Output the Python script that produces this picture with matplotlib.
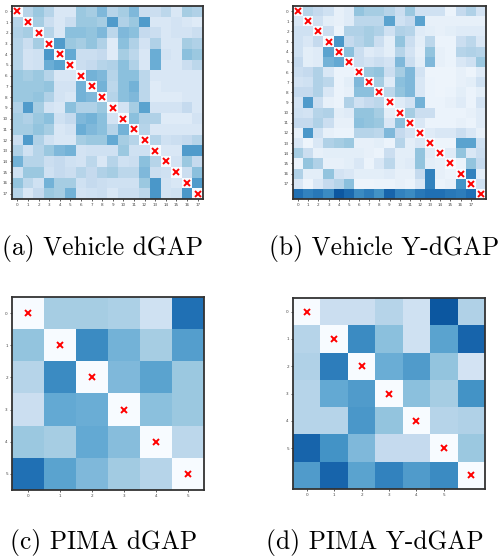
import numpy as np
import matplotlib
matplotlib.use("Agg")
import matplotlib.pyplot as plt

# Pairwise attribution matrices (diagonal entries are zero)
vehicle_dgap = [
    [0.00, 0.30, 0.38, 0.30, 0.15, 0.15, 0.38, 0.35, 0.45, 0.30, 0.35, 0.45, 0.22, 0.22, 0.28, 0.15, 0.35, 0.32],
    [0.30, 0.00, 0.35, 0.22, 0.15, 0.22, 0.38, 0.38, 0.35, 0.58, 0.32, 0.38, 0.58, 0.15, 0.15, 0.18, 0.15, 0.12],
    [0.32, 0.35, 0.00, 0.30, 0.15, 0.42, 0.42, 0.40, 0.45, 0.28, 0.45, 0.42, 0.25, 0.22, 0.15, 0.18, 0.18, 0.22],
    [0.30, 0.22, 0.35, 0.00, 0.58, 0.38, 0.35, 0.40, 0.32, 0.12, 0.42, 0.32, 0.18, 0.32, 0.15, 0.15, 0.35, 0.32],
    [0.30, 0.18, 0.20, 0.60, 0.00, 0.52, 0.22, 0.22, 0.25, 0.12, 0.35, 0.28, 0.15, 0.50, 0.18, 0.15, 0.42, 0.38],
    [0.30, 0.18, 0.20, 0.50, 0.55, 0.00, 0.22, 0.25, 0.30, 0.32, 0.42, 0.32, 0.15, 0.50, 0.15, 0.15, 0.22, 0.28],
    [0.38, 0.35, 0.38, 0.30, 0.15, 0.15, 0.00, 0.48, 0.45, 0.30, 0.42, 0.42, 0.28, 0.15, 0.15, 0.15, 0.15, 0.15],
    [0.38, 0.38, 0.38, 0.40, 0.18, 0.18, 0.48, 0.00, 0.48, 0.28, 0.42, 0.48, 0.28, 0.12, 0.15, 0.15, 0.15, 0.15],
    [0.38, 0.38, 0.40, 0.32, 0.18, 0.15, 0.48, 0.45, 0.00, 0.30, 0.42, 0.45, 0.28, 0.12, 0.12, 0.12, 0.15, 0.15],
    [0.32, 0.58, 0.35, 0.18, 0.15, 0.42, 0.32, 0.32, 0.38, 0.00, 0.18, 0.35, 0.55, 0.18, 0.18, 0.18, 0.25, 0.15],
    [0.35, 0.32, 0.38, 0.42, 0.20, 0.25, 0.45, 0.48, 0.42, 0.18, 0.00, 0.42, 0.32, 0.32, 0.12, 0.12, 0.12, 0.18],
    [0.35, 0.35, 0.40, 0.35, 0.15, 0.18, 0.50, 0.45, 0.42, 0.30, 0.48, 0.00, 0.30, 0.15, 0.15, 0.15, 0.15, 0.15],
    [0.22, 0.58, 0.32, 0.20, 0.15, 0.15, 0.35, 0.38, 0.38, 0.52, 0.35, 0.30, 0.00, 0.30, 0.20, 0.22, 0.25, 0.30],
    [0.32, 0.20, 0.30, 0.38, 0.45, 0.48, 0.18, 0.20, 0.20, 0.20, 0.38, 0.20, 0.20, 0.00, 0.15, 0.15, 0.58, 0.58],
    [0.48, 0.30, 0.30, 0.22, 0.25, 0.20, 0.18, 0.28, 0.15, 0.30, 0.20, 0.22, 0.42, 0.30, 0.00, 0.18, 0.38, 0.25],
    [0.20, 0.38, 0.38, 0.20, 0.25, 0.22, 0.30, 0.25, 0.32, 0.35, 0.28, 0.28, 0.45, 0.22, 0.20, 0.00, 0.22, 0.42],
    [0.40, 0.28, 0.20, 0.48, 0.35, 0.35, 0.20, 0.25, 0.22, 0.20, 0.20, 0.20, 0.38, 0.60, 0.18, 0.15, 0.00, 0.58],
    [0.30, 0.15, 0.25, 0.38, 0.35, 0.48, 0.18, 0.20, 0.22, 0.15, 0.22, 0.22, 0.28, 0.60, 0.18, 0.20, 0.60, 0.00],
]

vehicle_ydgap = [
    [0.00, 0.30, 0.25, 0.20, 0.08, 0.12, 0.40, 0.35, 0.35, 0.30, 0.22, 0.38, 0.20, 0.20, 0.20, 0.06, 0.25, 0.32, 0.18],
    [0.15, 0.00, 0.20, 0.10, 0.08, 0.12, 0.28, 0.28, 0.28, 0.55, 0.20, 0.25, 0.55, 0.08, 0.08, 0.08, 0.08, 0.08, 0.08],
    [0.20, 0.20, 0.00, 0.22, 0.06, 0.32, 0.32, 0.35, 0.32, 0.20, 0.32, 0.30, 0.12, 0.10, 0.08, 0.10, 0.12, 0.12, 0.12],
    [0.20, 0.15, 0.25, 0.00, 0.60, 0.25, 0.30, 0.35, 0.22, 0.10, 0.40, 0.22, 0.10, 0.28, 0.06, 0.06, 0.22, 0.28, 0.15],
    [0.20, 0.10, 0.12, 0.55, 0.00, 0.42, 0.22, 0.12, 0.15, 0.10, 0.30, 0.18, 0.08, 0.40, 0.08, 0.06, 0.30, 0.32, 0.30],
    [0.25, 0.10, 0.12, 0.48, 0.52, 0.00, 0.22, 0.18, 0.22, 0.18, 0.45, 0.22, 0.10, 0.45, 0.08, 0.06, 0.15, 0.20, 0.38],
    [0.22, 0.25, 0.32, 0.15, 0.06, 0.06, 0.00, 0.38, 0.40, 0.22, 0.35, 0.45, 0.18, 0.05, 0.05, 0.05, 0.08, 0.05, 0.12],
    [0.18, 0.20, 0.32, 0.28, 0.06, 0.10, 0.45, 0.00, 0.35, 0.12, 0.42, 0.45, 0.15, 0.06, 0.05, 0.05, 0.08, 0.10, 0.20],
    [0.25, 0.25, 0.32, 0.15, 0.06, 0.08, 0.42, 0.42, 0.00, 0.28, 0.40, 0.45, 0.15, 0.06, 0.05, 0.06, 0.10, 0.06, 0.10],
    [0.18, 0.58, 0.22, 0.08, 0.06, 0.32, 0.20, 0.25, 0.28, 0.00, 0.12, 0.18, 0.48, 0.06, 0.06, 0.08, 0.12, 0.06, 0.18],
    [0.20, 0.18, 0.30, 0.32, 0.10, 0.12, 0.40, 0.40, 0.35, 0.10, 0.00, 0.35, 0.22, 0.22, 0.06, 0.06, 0.06, 0.08, 0.12],
    [0.25, 0.25, 0.32, 0.22, 0.08, 0.08, 0.42, 0.40, 0.38, 0.15, 0.42, 0.00, 0.15, 0.06, 0.06, 0.06, 0.08, 0.06, 0.12],
    [0.08, 0.60, 0.20, 0.08, 0.06, 0.06, 0.30, 0.30, 0.28, 0.45, 0.25, 0.18, 0.00, 0.12, 0.15, 0.15, 0.22, 0.15, 0.08],
    [0.15, 0.05, 0.15, 0.32, 0.35, 0.38, 0.08, 0.08, 0.10, 0.06, 0.30, 0.10, 0.15, 0.00, 0.05, 0.05, 0.55, 0.55, 0.20],
    [0.35, 0.22, 0.08, 0.10, 0.10, 0.10, 0.10, 0.08, 0.06, 0.22, 0.10, 0.10, 0.40, 0.12, 0.00, 0.12, 0.40, 0.15, 0.22],
    [0.06, 0.40, 0.32, 0.08, 0.08, 0.10, 0.15, 0.06, 0.15, 0.28, 0.10, 0.12, 0.40, 0.10, 0.08, 0.00, 0.06, 0.40, 0.25],
    [0.32, 0.10, 0.10, 0.40, 0.18, 0.15, 0.10, 0.10, 0.10, 0.12, 0.08, 0.08, 0.25, 0.68, 0.08, 0.06, 0.00, 0.68, 0.10],
    [0.15, 0.05, 0.15, 0.25, 0.30, 0.42, 0.05, 0.05, 0.06, 0.06, 0.08, 0.06, 0.15, 0.68, 0.06, 0.08, 0.62, 0.00, 0.20],
    [0.75, 0.68, 0.72, 0.65, 0.85, 0.78, 0.65, 0.70, 0.62, 0.80, 0.68, 0.65, 0.72, 0.75, 0.75, 0.72, 0.70, 0.75, 0.00],
]

pima_dgap = [
    [0.00, 0.35, 0.35, 0.33, 0.20, 0.75],
    [0.40, 0.00, 0.65, 0.48, 0.35, 0.57],
    [0.30, 0.65, 0.00, 0.45, 0.55, 0.38],
    [0.22, 0.52, 0.50, 0.00, 0.42, 0.38],
    [0.38, 0.35, 0.52, 0.43, 0.00, 0.28],
    [0.75, 0.55, 0.45, 0.36, 0.30, 0.00],
]

pima_ydgap = [
    [0.00, 0.22, 0.22, 0.30, 0.20, 0.85, 0.32],
    [0.30, 0.00, 0.65, 0.42, 0.20, 0.55, 0.80],
    [0.32, 0.70, 0.00, 0.50, 0.58, 0.40, 0.18],
    [0.30, 0.52, 0.58, 0.00, 0.42, 0.35, 0.62],
    [0.30, 0.30, 0.60, 0.40, 0.00, 0.30, 0.32],
    [0.80, 0.62, 0.45, 0.25, 0.25, 0.00, 0.38],
    [0.58, 0.80, 0.55, 0.68, 0.58, 0.65, 0.00],
]

vehicle_ticks = list(range(18))
pima_ticks = list(range(6))

captions = ["(a) Vehicle dGAP", "(b) Vehicle Y-dGAP",
            "(c) PIMA dGAP", "(d) PIMA Y-dGAP"]

W, H = 504, 556
fig = plt.figure(figsize=(W / 100, H / 100), dpi=100)


def px_axes(x0, y0, x1, y1):
    return fig.add_axes([x0 / W, 1 - y1 / H, (x1 - x0) / W, (y1 - y0) / H])


def draw(ax, mat, ticks, ms, mew, tick_fs):
    m = np.asarray(mat, dtype=float)
    n = m.shape[0]
    ax.imshow(m, cmap="Blues", vmin=0, vmax=1, aspect="auto",
              interpolation="nearest")
    idx = np.arange(n)
    ax.plot(idx, idx, linestyle="none", marker="x", color="red",
            markersize=ms, markeredgewidth=mew)
    ax.set_xlim(-0.5, n - 0.5)
    ax.set_ylim(n - 0.5, -0.5)
    ax.set_xticks(ticks)
    ax.set_yticks(ticks)
    ax.set_xticklabels([str(t) for t in ticks])
    ax.set_yticklabels([str(t) for t in ticks])
    ax.tick_params(labelsize=tick_fs, length=1.5, width=0.6, pad=1.5,
                   colors="#444444")
    for s in ax.spines.values():
        s.set_linewidth(1.3)
        s.set_color("#333333")


ax_a = px_axes(12, 6, 203, 199)
draw(ax_a, vehicle_dgap, vehicle_ticks, 4.5, 1.4, 3)
ax_b = px_axes(293, 6, 486, 199)
draw(ax_b, vehicle_ydgap, vehicle_ticks, 4.5, 1.4, 3)
ax_c = px_axes(12, 297, 204, 490)
draw(ax_c, pima_dgap, pima_ticks, 5, 1.4, 3)
ax_d = px_axes(293, 298, 485, 489)
draw(ax_d, pima_ydgap, pima_ticks, 5, 1.4, 3)

cap_pos = [(102, 248), (384, 248), (104, 542), (375, 542)]
for (cx, cy), txt in zip(cap_pos, captions):
    fig.text(cx / W, 1 - cy / H, txt, family="cmr10", fontsize=18.3,
             ha="center", va="center")

fig.savefig("out.png", dpi=100)
